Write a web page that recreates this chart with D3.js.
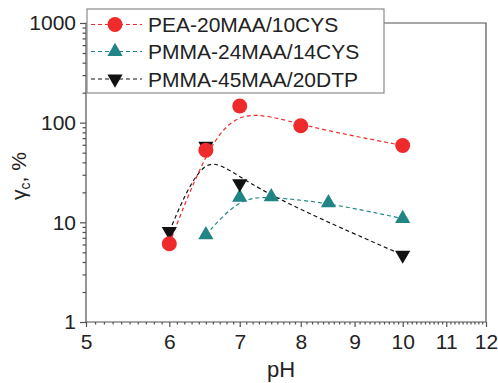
<!DOCTYPE html>
<html lang="en">
<head>
    <meta charset="UTF-8" />
    <title>gamma_c vs pH</title>
    <script src="https://d3js.org/d3.v7.min.js"></script>
    <style>
        html, body { margin: 0; padding: 0; background: #fff; overflow: hidden; }
        svg { display: block; font-family: "Liberation Sans", Arial, sans-serif; }
    </style>
</head>
<body>
    <svg width="498" height="383"></svg>
    <script>
        // data
        const seriesNames = ["PEA-20MAA/10CYS", "PMMA-24MAA/14CYS", "PMMA-45MAA/20DTP"];
        const peaPH = [6, 6.5, 7, 8, 10];
        const peaVal = [6.1, 53, 147, 93, 59];
        const pmma24PH = [6.5, 7, 7.5, 8.5, 10];
        const pmma24Val = [7.5, 17.8, 18, 15.7, 10.9];
        const pmma45PH = [6, 6.5, 7, 10];
        const pmma45Val = [8.1, 58, 24.5, 4.7];
        const xTicks = [5, 6, 7, 8, 9, 10, 11, 12];
        const yTicks = [1, 10, 100, 1000];

        const svg = d3.select("svg");
        const plotL = 86, plotR = 486, plotT = 23, plotB = 322;
        const fontSize = 21;

        const x = d3.scaleLog().domain([5, 12]).range([plotL, plotR]);
        const y = d3.scaleLog().domain([1, 1000]).range([plotB, plotT]);

        const axisColor = "#505050";

        // minor ticks
        const xMinor = d3.range(50, 121).map(v => v / 10).filter(v => !xTicks.includes(v));
        const yMinor = [];
        [1, 10, 100].forEach(d => { for (let k = 2; k <= 9; k++) yMinor.push(d * k); });

        const xAxis = svg.append("g").attr("transform", `translate(0,${plotB})`)
            .call(d3.axisBottom(x).tickValues(xTicks).tickFormat(d3.format("d")).tickSize(5).tickPadding(7.5));
        svg.append("g").attr("transform", `translate(0,${plotB})`)
            .call(d3.axisBottom(x).tickValues(xMinor).tickFormat("").tickSize(2.5))
            .call(g => g.select(".domain").remove());

        const yAxis = svg.append("g").attr("transform", `translate(${plotL},0)`)
            .call(d3.axisLeft(y).tickValues(yTicks).tickFormat(d3.format("d")).tickSize(6).tickPadding(4));
        svg.append("g").attr("transform", `translate(${plotL},0)`)
            .call(d3.axisLeft(y).tickValues(yMinor).tickFormat("").tickSize(3.5))
            .call(g => g.select(".domain").remove());

        svg.selectAll(".tick line, .domain").attr("stroke", axisColor).attr("stroke-width", 1.2);
        xAxis.select(".domain").attr("d", `M${plotL},0H${plotR}`);
        yAxis.select(".domain").attr("d", `M0,${plotB}V${plotT}`);
        svg.selectAll(".tick text").attr("font-size", fontSize).attr("fill", "#222")
            .attr("font-family", "'Liberation Sans', Arial, sans-serif");

        // frame top and right
        svg.append("path")
            .attr("d", `M${plotL},${plotT}H${plotR}V${plotB}`)
            .attr("fill", "none").attr("stroke", axisColor).attr("stroke-width", 1.2);

        // axis titles
        svg.append("text")
            .attr("x", 281).attr("y", 377)
            .attr("text-anchor", "middle").attr("font-size", 22).attr("fill", "#222")
            .text("pH");

        const yl = svg.append("text")
            .attr("transform", "translate(26,176) rotate(-90)")
            .attr("text-anchor", "middle").attr("font-size", fontSize).attr("fill", "#222");
        yl.append("tspan").text("γ");
        yl.append("tspan").attr("font-size", 14).attr("dy", 4).text("c");
        yl.append("tspan").attr("dy", -4).text(", %");

        const series = [
            { name: seriesNames[1], xs: pmma24PH, ys: pmma24Val, color: "#1f8585", shape: "up" },
            { name: seriesNames[2], xs: pmma45PH, ys: pmma45Val, color: "#111111", shape: "down" },
            { name: seriesNames[0], xs: peaPH, ys: peaVal, color: "#ee2a2a", shape: "circle" }
        ];

        const line = d3.line().x(d => x(d[0])).y(d => y(d[1])).curve(d3.curveBasis);
        const triangle = d3.symbol().type(d3.symbolTriangle).size(100);

        function drawMarker(g, cx, cy, s) {
            if (s.shape === "circle") {
                g.append("circle").attr("cx", cx).attr("cy", cy).attr("r", 7.5).attr("fill", s.color);
            } else {
                g.append("path").attr("d", triangle())
                    .attr("transform", `translate(${cx},${cy})` + (s.shape === "down" ? " rotate(180)" : ""))
                    .attr("fill", s.color);
            }
        }

        series.forEach(s => {
            svg.append("path")
                .datum(d3.zip(s.xs, s.ys))
                .attr("d", line)
                .attr("fill", "none")
                .attr("stroke", s.color)
                .attr("stroke-width", 1.2)
                .attr("stroke-dasharray", "4,3");
        });
        series.forEach(s => {
            const g = svg.append("g");
            s.xs.forEach((v, i) => drawMarker(g, x(v), y(s.ys[i]), s));
        });

        // legend
        const legend = svg.append("g");
        legend.append("rect")
            .attr("x", 87).attr("y", 9).attr("width", 297).attr("height", 84)
            .attr("fill", "#fff").attr("stroke", "#8a8a8a").attr("stroke-width", 1.2);
        const legendOrder = [series[2], series[0], series[1]];
        const rowY = [24.5, 51.5, 79];
        legendOrder.forEach((s, i) => {
            const cy = rowY[i];
            legend.append("line")
                .attr("x1", 91).attr("x2", 142).attr("y1", cy).attr("y2", cy)
                .attr("stroke", s.color).attr("stroke-width", 1.2).attr("stroke-dasharray", "4,3");
            drawMarker(legend, 115, cy, s);
            legend.append("text")
                .attr("x", 148).attr("y", cy + 7.5)
                .attr("font-size", fontSize).attr("fill", "#222")
                .text(s.name);
        });
    </script>
</body>
</html>
